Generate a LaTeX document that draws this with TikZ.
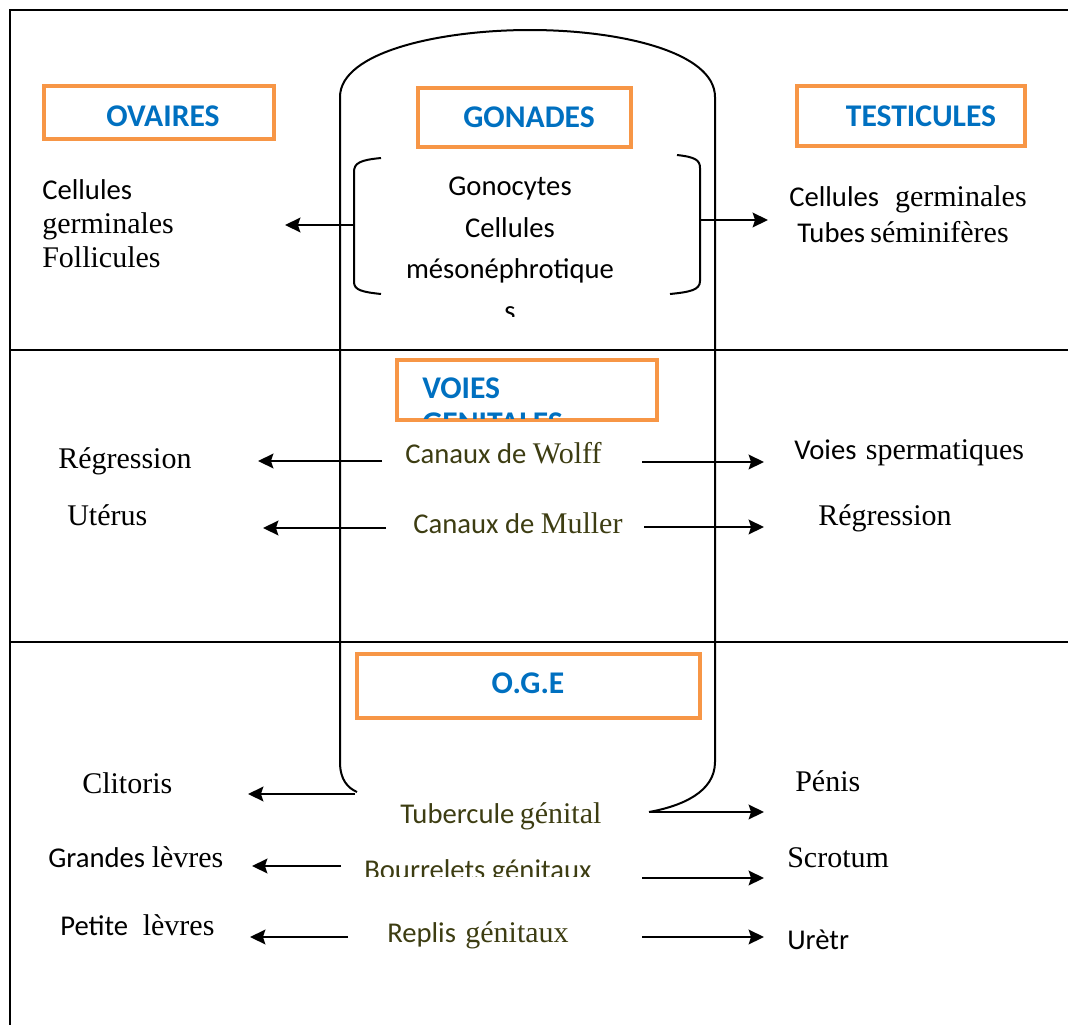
\documentclass[tikz,border=0pt]{standalone}
\usepackage{fontspec}
\setmainfont{Liberation Serif}
\newfontfamily\calf{Carlito}
\newfontfamily\tmsf{Liberation Serif}
\usetikzlibrary{arrows.meta}
\definecolor{ttlblue}{RGB}{0,112,192}
\definecolor{boxorange}{RGB}{247,150,70}
\definecolor{txtolive}{RGB}{61,61,18}
\newcommand\cs{\calf\fontsize{21.5}{25}\selectfont}
\newcommand\ts{\tmsf\fontsize{22.5}{27}\selectfont}
\newcommand\ttlfont{\calf\bfseries\fontsize{23.7}{28}\selectfont}
\begin{document}
\begin{tikzpicture}[x=0.75pt,y=-0.75pt,
  frame/.style={line width=1.5pt},
  arr/.style={line width=1.5pt,-{Stealth[length=11.5pt,width=11pt,inset=1.8pt]}},
  ttlbox/.style={draw=boxorange,line width=3.4pt,inner sep=0pt},
  ttl/.style={text=ttlblue,font=\ttlfont,inner sep=0pt,anchor=base},
  lbl/.style={inner sep=0pt,anchor=base west},
  clbl/.style={inner sep=0pt,anchor=base}]
\useasboundingbox (0,0) rectangle (1068,1025);
% frame
\draw[frame] (1068,10) -- (10,10) -- (10,1025);
\draw[frame] (10,350) -- (1068,350);
\draw[frame] (10,642) -- (1068,642);
% central rounded shape
\draw[frame] (357,792) .. controls (348,788) and (340,780) .. (340,762) -- (340,97)
  .. controls (340,52) and (440,30) .. (530,30)
  .. controls (620,30) and (715,52) .. (715,97) -- (715,762)
  .. controls (715,792) and (682,806) .. (649,812);
% title boxes
\node (ovbox) [ttlbox,minimum width=172.5pt,minimum height=39.75pt] at (159,112.5) {};
\node (gobox) [ttlbox,minimum width=159.75pt,minimum height=44.25pt] at (524.5,117.5) {};
\node (tebox) [ttlbox,minimum width=171pt,minimum height=45pt] at (911,116) {};
\node (vgbox) [ttlbox,minimum width=195pt,minimum height=45pt] at (527,390) {};
\node (ogbox) [ttlbox,minimum width=257.25pt,minimum height=48pt] at (528.5,686) {};
\node (ovt) [ttl] at (163,126) {OVAIRES};
\node (got) [ttl] at (529,127) {GONADES};
\node (tet) [ttl] at (921,126) {TESTICULES};
\node (vgt) [ttl,anchor=base west] at (422,398) {VOIES};
\begin{scope}
\clip (399,362) rectangle (655,418);
\node (vgt2) [ttl,anchor=base west] at (422,433) {GENITALES};
\end{scope}
\node (ogt) [ttl] at (528,693) {O.G.E};
% brackets
\draw[frame] (381,158) .. controls (360,160) and (354,163) .. (354,172) -- (354,282)
  .. controls (354,290) and (362,292) .. (381,294);
\draw[frame] (677,155) .. controls (695,157) and (700,160) .. (700,168) -- (700,281)
  .. controls (700,290) and (690,292) .. (670,294);
% gonad contents
\node (gon1) [clbl,font=\cs] at (510,195) {Gonocytes};
\node (gon2) [clbl,font=\cs] at (510,237) {Cellules};
\node (gon3) [clbl,font=\cs] at (510,278) {mésonéphrotique};
\begin{scope}
\clip (460,296) rectangle (560,316);
\node (gon4) [clbl,font=\cs] at (510,320) {s};
\end{scope}
% left gonad text
\node (ovc1) [lbl,font=\cs] at (42,199) {Cellules};
\node (ovc2) [lbl,font=\ts] at (42,233) {germinales};
\node (ovc3) [lbl,font=\ts] at (42,267) {Follicules};
% right gonad text
\node (tec1) [lbl] at (789,206) {{\cs Cellules}\hspace{12pt}{\ts germinales}};
\node (tec2) [lbl] at (797,242) {{\cs Tubes}\hspace{4pt}{\ts séminifères}};
% gonad arrows
\coordinate (gl) at (354,225); \coordinate (glt) at (285,225);
\coordinate (gr) at (700,220); \coordinate (grt) at (768,220);
\draw[arr] (gl) -- (glt);
\draw[arr] (gr) -- (grt);
% voies genitales
\node (wolff) [lbl,text=txtolive] at (405,463) {{\cs Canaux de }{\ts Wolff}};
\node (muller) [lbl,text=txtolive] at (413,533) {{\cs Canaux de }{\ts Muller}};
\node (regl) [lbl,font=\ts] at (58,468) {Régression};
\node (uter) [lbl,font=\ts] at (67,525) {Utérus};
\node (vsp) [lbl] at (794,459) {{\cs Voies}\hspace{7pt}{\ts spermatiques}};
\node (regr) [lbl,font=\ts] at (818,525) {Régression};
\coordinate (w1) at (382,461); \coordinate (w1t) at (258,461);
\coordinate (m1) at (386,528); \coordinate (m1t) at (263,528);
\coordinate (w2) at (642,462); \coordinate (w2t) at (764,462);
\coordinate (m2) at (644,527); \coordinate (m2t) at (764,527);
\draw[arr] (w1) -- (w1t);
\draw[arr] (m1) -- (m1t);
\draw[arr] (w2) -- (w2t);
\draw[arr] (m2) -- (m2t);
% OGE
\node (tub) [lbl,text=txtolive] at (400,823) {{\cs Tubercule}\hspace{4pt}{\ts génital}};
\begin{scope}
\clip (350,840) rectangle (640,876);
\node (bour) [lbl,text=txtolive,font=\cs] at (364,879) {Bourrelets génitaux};
\end{scope}
\node (repl) [lbl,text=txtolive] at (387,942) {{\cs Replis}\hspace{7pt}{\ts génitaux}};
\node (clit) [lbl,font=\ts] at (82,793) {Clitoris};
\node (grl) [lbl] at (48,867) {{\cs Grandes}\hspace{5pt}{\ts lèvres}};
\node (ptl) [lbl] at (60,935) {{\cs Petite}\hspace{11pt}{\ts lèvres}};
\node (pen) [lbl,font=\ts] at (795,791) {Pénis};
\node (scr) [lbl,font=\ts] at (787,867) {Scrotum};
\node (ure) [lbl,font=\cs] at (787,949) {Urètr};
\coordinate (c1) at (355,794); \coordinate (c1t) at (248,794);
\coordinate (g1) at (341,866); \coordinate (g1t) at (252,866);
\coordinate (p1) at (348,937); \coordinate (p1t) at (250,937);
\coordinate (c2) at (649,812); \coordinate (c2t) at (764,812);
\coordinate (g2) at (642,878); \coordinate (g2t) at (764,878);
\coordinate (p2) at (642,937); \coordinate (p2t) at (764,937);
\draw[arr] (c1) -- (c1t);
\draw[arr] (g1) -- (g1t);
\draw[arr] (p1) -- (p1t);
\draw[arr] (c2) -- (c2t);
\draw[arr] (g2) -- (g2t);
\draw[arr] (p2) -- (p2t);
\end{tikzpicture}
\end{document}
